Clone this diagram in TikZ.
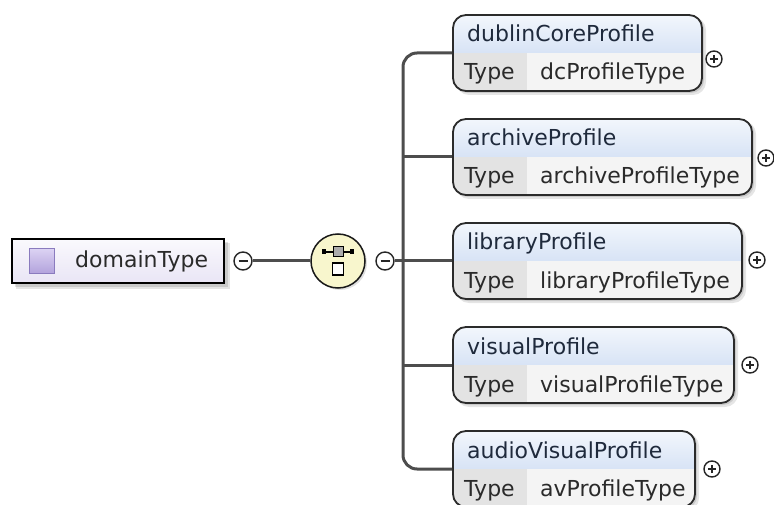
\documentclass[tikz,border=0pt]{standalone}
\usepackage{fontspec}
\setmainfont{DejaVu Sans}
\definecolor{conn}{HTML}{4D4D4D}
\definecolor{edge}{HTML}{2B2B2B}
\definecolor{hdtop}{HTML}{F2F6FC}
\definecolor{hdbot}{HTML}{BDD1EF}
\definecolor{typecell}{HTML}{E3E3E3}
\definecolor{valcell}{HTML}{F4F4F4}
\definecolor{nametext}{HTML}{1F2A3C}
\definecolor{celltext}{HTML}{2A2A2A}
\definecolor{seqfill}{HTML}{F8F6CD}
\definecolor{lavtop}{HTML}{FAF9FD}
\definecolor{lavbot}{HTML}{E9E5F5}
\definecolor{icontop}{HTML}{DCD3F3}
\definecolor{iconbot}{HTML}{B2A2DC}
\definecolor{iconedge}{HTML}{8A7BBE}

\tikzset{
  connector/.style={draw=conn, line width=3pt},
  elbox/.style={rectangle, draw=edge, line width=1.8pt, rounded corners=13pt, inner sep=0,
    path picture={
      \shade[sharp corners, top color=hdtop, bottom color=hdbot]
        (path picture bounding box.north west) rectangle (path picture bounding box.east);
      \fill[sharp corners, typecell] (path picture bounding box.west)
        rectangle ([xshift=74pt]path picture bounding box.south west);
      \fill[sharp corners, valcell] ([xshift=74pt]path picture bounding box.west)
        rectangle (path picture bounding box.south east);
    }},
  nametxt/.style={anchor=base west, inner sep=0, text=nametext, font=\fontsize{22}{26}\selectfont},
  celltxt/.style={anchor=base west, inner sep=0, text=celltext, font=\fontsize{22}{26}\selectfont},
  btn/.style={circle, draw=black!85, line width=1.4pt, fill=white, inner sep=0},
  plusbtn/.style={btn, minimum size=16pt,
    path picture={
      \draw[line width=1.3pt]
        ([xshift=-4pt]path picture bounding box.center) -- ([xshift=4pt]path picture bounding box.center)
        ([yshift=-4pt]path picture bounding box.center) -- ([yshift=4pt]path picture bounding box.center);
    }},
  minusbtn/.style={btn, minimum size=18pt,
    path picture={
      \draw[line width=1.4pt]
        ([xshift=-4.5pt]path picture bounding box.center) -- ([xshift=4.5pt]path picture bounding box.center);
    }},
}

% one child element: #1 name, #2 top, #3 right edge, #4 element, #5 type, #6/#7 expand button
\newcommand\profilebox[7]{%
  \fill[black, opacity=0.10, rounded corners=13pt] (456,#2+2) rectangle (#3+4,#2+80);
  \fill[black, opacity=0.12, rounded corners=13pt] (455,#2+1) rectangle (#3+2,#2+78);
  \node[elbox, minimum width={(#3-453)*1pt}, minimum height=76pt] (#1) at ({(453+#3)/2},#2+38) {};
  \node[nametxt] (#1n) at (467,#2+27) {#4};
  \node[celltxt] (#1k) at (464,#2+65) {Type};
  \node[celltxt] (#1v) at (540,#2+65) {#5};
  \node[plusbtn] (#1p) at (#6,#7) {};
}

\begin{document}
\begin{tikzpicture}[x=1pt, y=-1pt]
\useasboundingbox (0,0) rectangle (774,505);
\fill[white] (0,0) rectangle (774,505);

% root element
\fill[black, opacity=0.12] (15,242) rectangle (228,287);
\fill[black, opacity=0.10] (16,243) rectangle (230,289);
\node[rectangle, draw=black, line width=1.8pt, top color=lavtop, bottom color=lavbot,
      minimum width=212pt, minimum height=44pt, inner sep=0] (root) at (118,261) {};
\node[rectangle, draw=iconedge, line width=0.8pt, top color=icontop, bottom color=iconbot,
      minimum width=25pt, minimum height=25pt, inner sep=0] (icon) at (42,261) {};
\node[celltxt] (rootn) at (75,268) {domainType};
\node[minusbtn] (m1) at (243,261) {};

% sequence compositor
\fill[black, opacity=0.12] (340,263) circle (27pt);
\node[circle, draw=black!90, line width=1.5pt, fill=seqfill, minimum size=54pt, inner sep=0] (seq) at (338,261) {};
\draw[line width=1.4pt] ([shift={(-14,-9)}]seq.center) -- ([shift={(14,-9)}]seq.center);
\fill ([shift={(-16,-11.5)}]seq.center) rectangle ([shift={(-12,-6.5)}]seq.center);
\fill ([shift={(12,-11.5)}]seq.center) rectangle ([shift={(16,-6.5)}]seq.center);
\draw[fill=gray!65, line width=1pt] ([shift={(-5,-14)}]seq.center) rectangle ([shift={(5,-4)}]seq.center);
\draw[fill=white, line width=1.2pt] ([shift={(-5.5,2)}]seq.center) rectangle ([shift={(5.5,14)}]seq.center);
\node[minusbtn] (m2) at (385,261) {};

% child elements
\profilebox{dc}{15}{702}{dublinCoreProfile}{dcProfileType}{714}{59}
\profilebox{ar}{119}{752}{archiveProfile}{archiveProfileType}{766}{158}
\profilebox{li}{223}{742}{libraryProfile}{libraryProfileType}{757}{260}
\profilebox{vi}{327}{734}{visualProfile}{visualProfileType}{750}{365}
\profilebox{av}{431}{695}{audioVisualProfile}{avProfileType}{712}{469}

% connectors
\coordinate (spine) at (403,261);
\draw[connector] (m1.east) -- (seq.west);
\draw[connector, rounded corners=14pt] (dc.west) -| (spine) |- (av.west);
\draw[connector] (spine |- ar.west) -- (ar.west);
\draw[connector] (spine |- vi.west) -- (vi.west);
\draw[connector] (m2.east) -- (li.west);
\end{tikzpicture}
\end{document}
